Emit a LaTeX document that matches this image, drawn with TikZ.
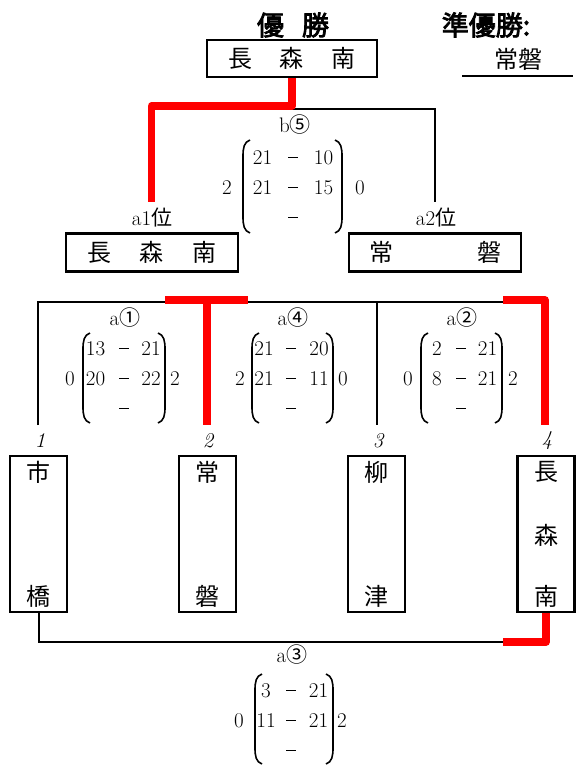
\documentclass[tikz,border=0pt]{standalone}
\usepackage{fontspec}
\newfontfamily\cjk{Noto Sans CJK JP}
\newfontfamily\cjkbf[FakeBold=3]{Noto Sans CJK JP}
\tikzset{
  box/.style={draw, line width=2.2pt, inner sep=0pt},
  wire/.style={line width=2pt, line join=miter},
  win/.style={draw=red, line width=7.5pt, line join=round},
  paren/.style={line width=1.6pt},
  num/.style={font=\fontsize{21}{24}\selectfont, inner sep=0pt, anchor=base, yshift=-7pt},
  lab/.style={font=\fontsize{21}{24}\selectfont, inner sep=0pt},
  itnum/.style={font=\fontsize{21}{24}\selectfont\itshape, inner sep=0pt},
  cj/.style={font=\cjk\fontsize{24}{28}\selectfont, inner sep=0pt},
  titl/.style={font=\cjkbf\fontsize{27}{30}\selectfont, inner sep=0pt}
}
\newcommand\dsh{\rule[6.2pt]{10pt}{1.3pt}}
\newcommand\parens[4]{%
  \draw[paren] (#1+7,#3) .. controls (#1+1,#3+2) and (#1,#3+8) .. (#1,#3+16) -- (#1,#4-16) .. controls (#1,#4-8) and (#1+1,#4-2) .. (#1+7,#4);
  \draw[paren] (#2-7,#3) .. controls (#2-1,#3+2) and (#2,#3+8) .. (#2,#3+16) -- (#2,#4-16) .. controls (#2,#4-8) and (#2-1,#4-2) .. (#2-7,#4);}
\newcommand\smat[9]{%
  \node[num] (#1a) at (#2,#5) {#6};
  \node[num] (#1b) at (#3,#5) {\dsh};
  \node[num] (#1c) at (#4,#5) {#7};
  \node[num] (#1d) at (#2,#5+30) {#8};
  \node[num] (#1e) at (#3,#5+30) {\dsh};
  \node[num] (#1f) at (#4,#5+30) {#9};
  \node[num] (#1g) at (#3,#5+60) {\dsh};}
\begin{document}
\begin{tikzpicture}[x=1pt,y=-1pt]
\fill[white] (0,0) rectangle (576,765);
\useasboundingbox (0,0) rectangle (576,765);

% titles
\node[titl] (yusho) at (293,25) {優\hspace{18pt}勝};
\node[titl] (jun) at (486,25) {準優勝:};
\node[box,cj,minimum width=170pt,minimum height=37pt] (champ) at (292,58.5) {長\hspace{28pt}森\hspace{28pt}南};
\node[cj] (runner) at (518,59) {常磐};
\coordinate (ulA) at (462,76); \coordinate (ulB) at (573,76);
\draw[wire] (ulA) -- (ulB);

% final
\node[lab] (b5) at (295,125) {b{\cjk ⑤}};
\parens{243}{342}{140}{233}
\smat{fm}{262.5}{293}{323.5}{157}{21}{10}{21}{15}
\node[num] (fmL) at (227,187) {2};
\node[num] (fmR) at (360,187) {0};
\node[lab] (a1lab) at (152,218) {a1{\cjk 位}};
\node[lab] (a2lab) at (436,218) {a2{\cjk 位}};
\node[box,cj,minimum width=172pt,minimum height=38pt] (a1box) at (152,252.5) {長\hspace{29pt}森\hspace{29pt}南};
\node[box,cj,minimum width=172pt,minimum height=38pt] (a2box) at (435,252.5) {常\hspace{84pt}磐};
\coordinate (j1) at (151.5,109.5);
\coordinate (a1top) at (151.5,202);
\coordinate (a2top) at (435,202);
\coordinate (rc) at (151.5,106);
\draw[wire] (j1) -| (a2top);
\draw[win] (champ.south) |- (rc) -- (a1top);

% league labels and matrices
\node[lab] (la1) at (125,318) {a{\cjk ①}};
\node[lab] (la4) at (293,318) {a{\cjk ④}};
\node[lab] (la2) at (462,318) {a{\cjk ②}};
\parens{83}{165}{333}{423}
\smat{ma}{95.5}{124}{151}{348}{13}{21}{20}{22}
\node[num] (maL) at (70,378) {0};
\node[num] (maR) at (175,378) {2};
\parens{252}{333}{333}{423}
\smat{md}{264}{291}{319}{348}{21}{20}{21}{11}
\node[num] (mdL) at (240,378) {2};
\node[num] (mdR) at (343,378) {0};
\parens{421}{502}{333}{423}
\smat{mb}{437}{461}{487.5}{348}{2}{21}{8}{21}
\node[num] (mbL) at (408,378) {0};
\node[num] (mbR) at (513,378) {2};

% upper lines
\coordinate (v1b) at (38,425); \coordinate (v1t) at (38,301.5);
\coordinate (v4t) at (545,301.5);
\coordinate (v3t) at (377,301.5); \coordinate (v3b) at (377,425);
\draw[wire] (v1b) -- (v1t) -- (v4t);
\draw[wire] (v3t) -- (v3b);
\coordinate (tA) at (165,300); \coordinate (tB) at (248,300);
\coordinate (tC) at (207,300); \coordinate (v2b) at (207,425);
\draw[win] (tA) -- (tB);
\draw[win] (tC) -- (v2b);
\coordinate (rA) at (503,300); \coordinate (v4b) at (545,425);
\draw[win] (rA) -| (v4b);

% seeds
\node[itnum] (n1) at (40,441) {1};
\node[itnum] (n2) at (208,441) {2};
\node[itnum] (n3) at (378,441) {3};
\node[itnum] (n4) at (547,441) {4};

% team boxes
\node[box,minimum width=57pt,minimum height=156pt] (t1) at (38.5,534) {};
\node[box,minimum width=57pt,minimum height=156pt] (t2) at (207.5,534) {};
\node[box,minimum width=57pt,minimum height=156pt] (t3) at (376.5,534) {};
\node[box,minimum width=57pt,minimum height=156pt] (t4) at (546,534) {};
\node[cj] (t1a) at (38.5,472) {市};
\node[cj] (t1b) at (38.5,596) {橋};
\node[cj] (t2a) at (207.5,472) {常};
\node[cj] (t2b) at (207.5,596) {磐};
\node[cj] (t3a) at (376.5,472) {柳};
\node[cj] (t3b) at (376.5,596) {津};
\node[cj] (t4a) at (546,472) {長};
\node[cj] (t4b) at (546,535) {森};
\node[cj] (t4c) at (546,596) {南};

% bottom match
\coordinate (br) at (545,642);
\coordinate (rb) at (503,642);
\draw[wire] (t1.south) |- (br);
\draw[win] (t4.south) |- (rb);
\node[lab] (la3) at (292,655) {a{\cjk ③}};
\parens{255}{333}{674}{764}
\smat{mc}{266}{291}{318.5}{690}{3}{21}{11}{21}
\node[num] (mcL) at (239,720) {0};
\node[num] (mcR) at (342,720) {2};
\end{tikzpicture}
\end{document}
